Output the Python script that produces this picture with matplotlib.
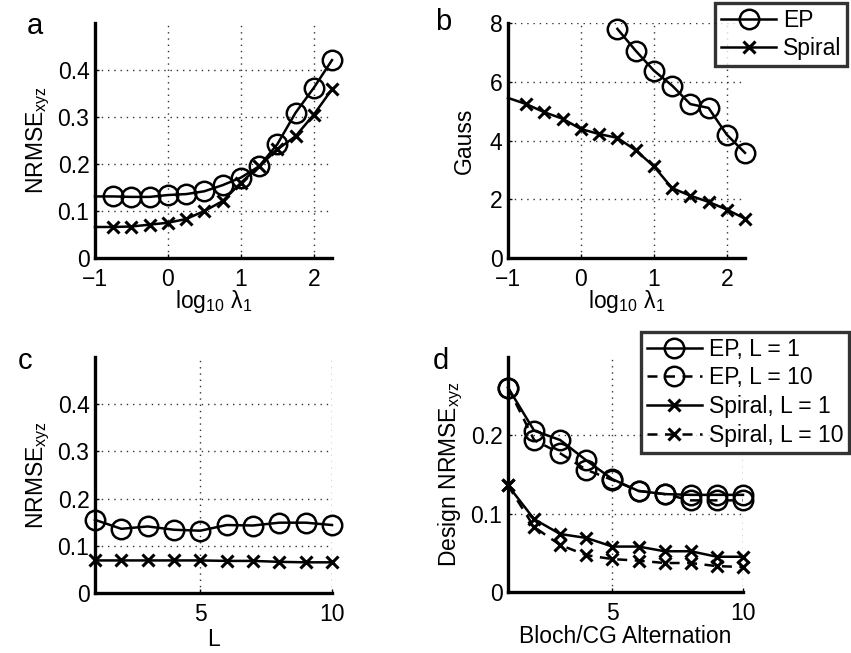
import numpy as np
import matplotlib.pyplot as plt

plt.rcParams['font.family'] = ['Liberation Sans', 'DejaVu Sans']
plt.rcParams['mathtext.fontset'] = 'custom'
plt.rcParams['mathtext.rm'] = 'Liberation Sans'
plt.rcParams['mathtext.it'] = 'Liberation Sans:italic'

# panel a / b: regularization sweep
log_lambda = [-1.0, -0.75, -0.5, -0.25, 0.0, 0.25, 0.5, 0.75, 1.0, 1.25, 1.5, 1.75, 2.0, 2.25]
nrmse_ep = [0.131, 0.131, 0.130, 0.130, 0.134, 0.136, 0.142, 0.155, 0.171, 0.195, 0.242, 0.309, 0.362, 0.421]
nrmse_spiral = [0.066, 0.066, 0.067, 0.071, 0.075, 0.083, 0.100, 0.121, 0.160, 0.195, 0.231, 0.259, 0.305, 0.359]
gauss_ep = [np.nan, np.nan, np.nan, np.nan, np.nan, np.nan, 7.80, 7.06, 6.38, 5.87, 5.24, 5.11, 4.20, 3.58]
gauss_spiral = [5.45, 5.24, 4.96, 4.74, 4.39, 4.22, 4.09, 3.67, 3.12, 2.38, 2.12, 1.91, 1.65, 1.34]

# panel c: number of subspaces L
L_vals = [1, 2, 3, 4, 5, 6, 7, 8, 9, 10]
nrmse_L_ep = [0.155, 0.136, 0.141, 0.134, 0.132, 0.144, 0.143, 0.149, 0.149, 0.144]
nrmse_L_spiral = [0.069, 0.069, 0.069, 0.069, 0.069, 0.068, 0.068, 0.066, 0.065, 0.065]

# panel d: alternations
alternations = [1, 2, 3, 4, 5, 6, 7, 8, 9, 10]
design_ep_L1 = [0.261, 0.206, 0.194, 0.168, 0.144, 0.129, 0.125, 0.124, 0.124, 0.124]
design_ep_L10 = [0.261, 0.194, 0.177, 0.156, 0.143, 0.129, 0.125, 0.117, 0.117, 0.117]
design_spiral_L1 = [0.136, 0.093, 0.074, 0.069, 0.058, 0.058, 0.052, 0.052, 0.045, 0.045]
design_spiral_L10 = [0.136, 0.083, 0.060, 0.047, 0.042, 0.040, 0.037, 0.037, 0.033, 0.032]

fs = 16.5
lw = 1.8
circ = dict(marker='o', ms=14, mfc='none', mec='k', mew=1.8, clip_on=False)
cross = dict(marker='x', ms=9, mec='k', mew=2.2, clip_on=False)

fig = plt.figure(figsize=(8.51, 6.53), dpi=100)
W, H = 851, 653


def make_ax(l, t, r, b):
    ax = fig.add_axes([l / W, 1 - b / H, (r - l) / W, (b - t) / H])
    for s in ['top', 'right']:
        ax.spines[s].set_visible(False)
    for s in ['left', 'bottom']:
        ax.spines[s].set_linewidth(2.4)
    ax.tick_params(direction='in', length=3, width=1, labelsize=fs, pad=4)
    ax.tick_params(axis='x', pad=7)
    ax.grid(True, color='0.2', linestyle=(0, (1, 3.5)), linewidth=1.0)
    ax.set_axisbelow(True)
    return ax


ylab = r'NRMSE$_{\mathrm{xyz}}$'
xlab = r'log$_{10}$ λ$_{1}$'

# a
ax = make_ax(95, 23, 332, 258)
ax.plot(log_lambda, nrmse_ep, 'k-', lw=lw, markevery=slice(1, None), **circ)
ax.plot(log_lambda, nrmse_spiral, 'k-', lw=lw, markevery=slice(1, None), **cross)
ax.set_xlim(-1, 2.25)
ax.set_ylim(0, 0.5)
ax.set_xticks([-1, 0, 1, 2])
ax.set_yticks([0, 0.1, 0.2, 0.3, 0.4])
ax.set_yticklabels(['0', '0.1', '0.2', '0.3', '0.4'])
ax.set_ylabel(ylab, fontsize=fs, labelpad=4)
ax.set_xlabel(xlab, fontsize=fs, labelpad=-2)

# b
ax = make_ax(508, 23, 745, 258)
ax.plot(log_lambda, gauss_ep, 'k-', lw=lw, label='EP', **circ)
ax.plot(log_lambda, gauss_spiral, 'k-', lw=lw, markevery=slice(1, None), label='Spiral', **cross)
ax.set_xlim(-1, 2.25)
ax.set_ylim(0, 8)
ax.set_xticks([-1, 0, 1, 2])
ax.set_yticks([0, 2, 4, 6, 8])
ax.set_ylabel('Gauss', fontsize=fs, labelpad=10)
ax.set_xlabel(xlab, fontsize=fs, labelpad=-2)
leg = ax.legend(loc='upper right', bbox_to_anchor=(847 / W, 1 - 3 / H), bbox_transform=fig.transFigure,
                fontsize=fs, frameon=True, fancybox=False, edgecolor='k', handlelength=2.4,
                handletextpad=0.3, borderpad=0.25, labelspacing=0.25, borderaxespad=0)
leg.get_frame().set_linewidth(2.4)

# c
ax = make_ax(95, 357, 332, 593)
ax.plot(L_vals, nrmse_L_ep, 'k-', lw=lw, **circ)
ax.plot(L_vals, nrmse_L_spiral, 'k-', lw=lw, **cross)
ax.set_xlim(1, 10)
ax.set_ylim(0, 0.5)
ax.set_xticks([5, 10])
ax.set_yticks([0, 0.1, 0.2, 0.3, 0.4])
ax.set_yticklabels(['0', '0.1', '0.2', '0.3', '0.4'])
ax.set_ylabel(ylab, fontsize=fs, labelpad=4)
ax.set_xlabel('L', fontsize=fs, labelpad=2)

# d
ax = make_ax(508, 357, 743, 592)
ax.plot(alternations, design_ep_L1, 'k-', lw=lw, label='EP, L = 1', **circ)
ax.plot(alternations, design_ep_L10, 'k--', lw=lw, dashes=(4, 3), label='EP, L = 10', **circ)
ax.plot(alternations, design_spiral_L1, 'k-', lw=lw, label='Spiral, L = 1', **cross)
ax.plot(alternations, design_spiral_L10, 'k--', lw=lw, dashes=(4, 3), label='Spiral, L = 10', **cross)
ax.set_xlim(1, 10)
ax.set_ylim(0, 0.3)
ax.set_xticks([5, 10])
ax.set_yticks([0, 0.1, 0.2])
ax.set_yticklabels(['0', '0.1', '0.2'])
ax.set_ylabel('Design ' + ylab, fontsize=fs, labelpad=4)
ax.set_xlabel('Bloch/CG Alternation', fontsize=fs, labelpad=0)
leg = ax.legend(loc='upper right', bbox_to_anchor=(849 / W, 1 - 332 / H), bbox_transform=fig.transFigure,
                fontsize=fs, frameon=True, fancybox=False, edgecolor='k', handlelength=2.4,
                handletextpad=0.3, borderpad=0.25, labelspacing=0.25, borderaxespad=0)
leg.get_frame().set_linewidth(2.4)

for letter, x, y in [('a', 35, 26), ('b', 443, 22), ('c', 25, 361), ('d', 441, 361)]:
    fig.text(x / W, 1 - y / H, letter, fontsize=21, ha='center', va='center')

fig.savefig('out.png', dpi=100)
